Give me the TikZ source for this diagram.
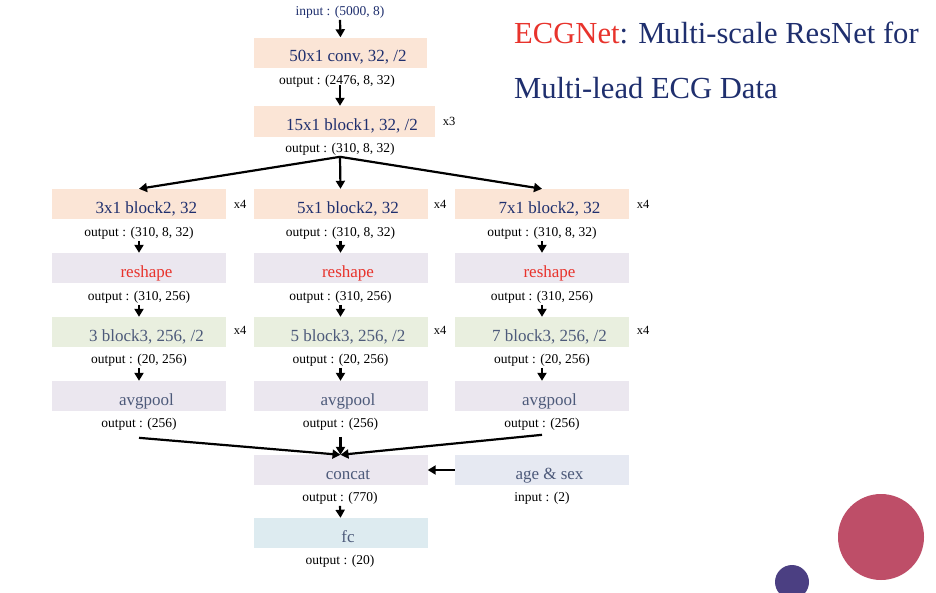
\documentclass[tikz,border=0pt]{standalone}
\usepackage{fontspec}
\setmainfont{Liberation Serif}
\usetikzlibrary{arrows.meta}
\definecolor{peach}{HTML}{FBE5D6}
\definecolor{lav}{HTML}{EBE7EF}
\definecolor{lgreen}{HTML}{E9EFDF}
\definecolor{lblue}{HTML}{DDEBF0}
\definecolor{lgrey}{HTML}{E6E9F2}
\definecolor{navy}{HTML}{1F2F6E}
\definecolor{slate}{HTML}{4D5A7A}
\definecolor{redt}{HTML}{E8332C}
\definecolor{circred}{HTML}{BE4E68}
\definecolor{circpur}{HTML}{4B3F82}
\tikzset{
  x=1pt, y=-1pt,
  box/.style={minimum width=174pt, minimum height=30pt, inner sep=0pt,
    text height=18pt, text depth=0pt,
    font=\fontsize{17}{20}\selectfont, execute at begin node={\hspace*{15pt}}},
  lbl/.style={font=\fontsize{13.5}{16}\selectfont, inner sep=1pt, yshift=-1.5pt},
  rep/.style={font=\fontsize{12.5}{15}\selectfont, inner sep=1pt},
  arr/.style={-{Triangle[length=8pt,width=9pt]}, line width=2.2pt},
}
\begin{document}
\begin{tikzpicture}
\useasboundingbox (0,0) rectangle (936,592);
\clip (0,0) rectangle (936,592);
\fill[white] (0,0) rectangle (936,592);

% title
\node[anchor=base west, inner sep=0pt, font=\fontsize{30.6}{34}\selectfont, text=navy] (t1) at (514,43) {\textcolor{redt}{ECGNet}: Multi-scale ResNet for};
\node[anchor=base west, inner sep=0pt, font=\fontsize{30.6}{34}\selectfont, text=navy] (t2) at (514,98) {Multi-lead ECG Data};

% top stem
\node[lbl, text=navy] (in) at (340,11) {input : (5000, 8)};
\node[box, fill=peach, text=navy, minimum width=173pt] (conv) at (340.5,52.5) {50x1 conv, 32, /2};
\node[lbl] (o1) at (337,80) {output : (2476, 8, 32)};
\node[box, fill=peach, text=navy, minimum width=181pt, minimum height=31pt] (b1) at (344.5,121.5) {15x1 block1, 32, /2};
\node[rep] (r1) at (449,121) {x3};
\node[lbl] (o2) at (340,148) {output : (310, 8, 32)};

\draw[arr] (in.south) -- (conv.north);
\draw[arr] (340,85) -- (b1.north -| 340,0);

% columns
\foreach \n/\cx/\k/\rx in {a/139/3/240, b/340.5/5/440, c/542/7/643}{
  \node[box, fill=peach, text=navy] (b2\n) at (\cx,204) {\k x1 block2, 32};
  \node[rep] (r2\n) at (\rx,204) {x4};
  \node[lbl] (o3\n) at (\cx,232) {output : (310, 8, 32)};
  \node[box, fill=lav, text=redt] (rs\n) at (\cx,268) {reshape};
  \node[lbl] (o4\n) at (\cx,296) {output : (310, 256)};
  \node[box, fill=lgreen, text=slate] (b3\n) at (\cx,332) {\k\ block3, 256, /2};
  \node[rep] (r3\n) at (\rx,330) {x4};
  \node[lbl] (o5\n) at (\cx,359) {output : (20, 256)};
  \node[box, fill=lav, text=slate] (ap\n) at (\cx,396) {avgpool};
  \node[lbl] (o6\n) at (\cx,423) {output : (256)};
  \draw[arr] (o3\n.south) -- (rs\n.north);
  \draw[arr] (o4\n.south) -- (b3\n.north);
  \draw[arr] (o5\n.south) -- (ap\n.north);
}

% fan out
\draw[arr] (o2.south) -- (b2a.north);
\draw[arr] (o2.south) -- (b2b.north);
\draw[arr] (o2.south) -- (b2c.north);

% bottom
\node[box, fill=lav, text=slate] (cc) at (340.5,470) {concat};
\node[box, fill=lgrey, text=slate] (as) at (542,470) {age \& sex};
\node[lbl] (o7) at (340,497) {output : (770)};
\node[lbl] (in2) at (542,497) {input : (2)};
\node[box, fill=lblue, text=slate] (fc) at (340.5,533) {fc};
\node[lbl] (o8) at (340,560) {output : (20)};

\draw[arr] ([yshift=-6pt]o6a.south) -- (cc.north);
\draw[arr] ([yshift=-5pt]o6b.south) -- (cc.north);
\draw[arr] ([yshift=-3pt]o6c.south) -- (cc.north);
\draw[arr] (as.west) -- (cc.east);
\draw[arr] (o7.south) -- (fc.north);

% decorative circles
\fill[circred] (881,537) circle[radius=43];
\fill[circpur] (792,582) circle[radius=17];
\end{tikzpicture}
\end{document}
